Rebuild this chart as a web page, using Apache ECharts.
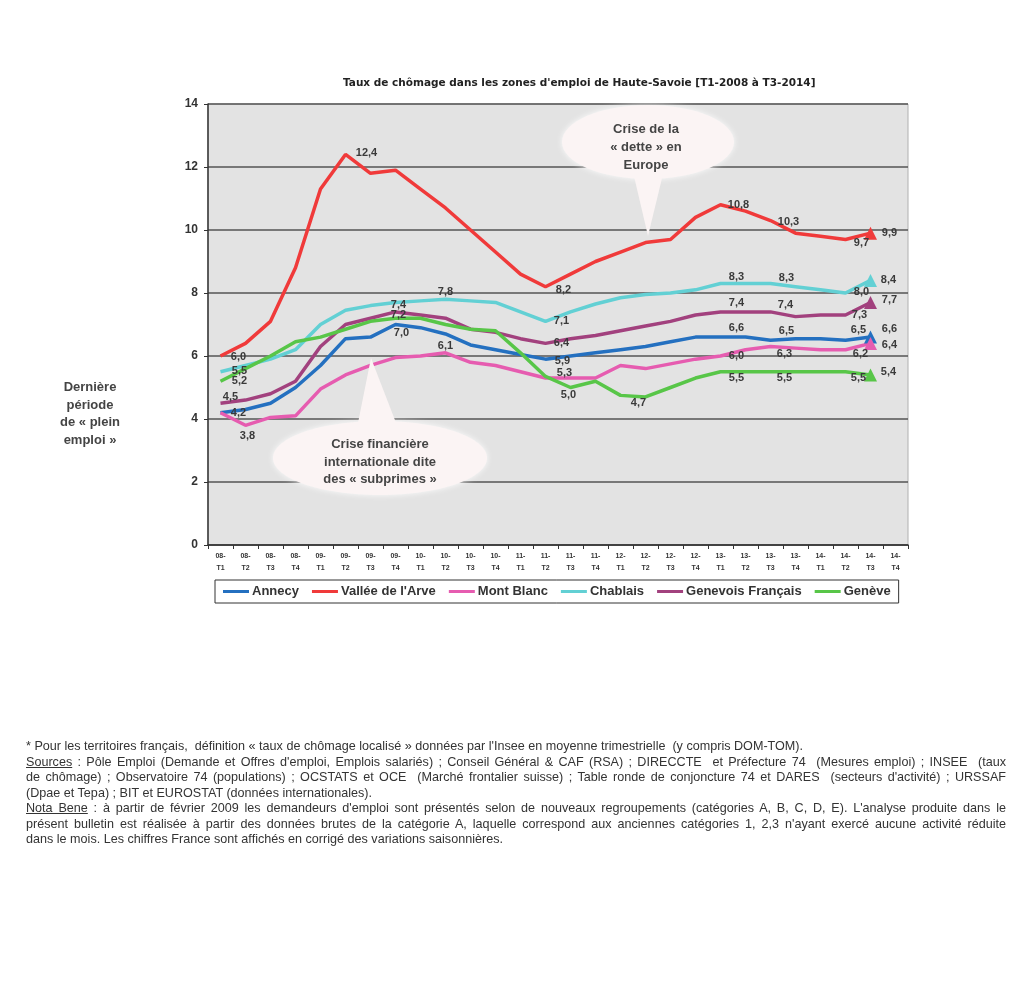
<!DOCTYPE html>
<html><head><meta charset="utf-8">
<script src="https://cdn.jsdelivr.net/npm/echarts@6/dist/echarts.min.js"></script>
<style>
html,body{margin:0;padding:0;background:#fff;}
#chart{position:absolute;left:0;top:0;width:1024px;height:991px;}
#notes{position:absolute;left:26px;top:739px;width:980px;font-family:"Liberation Sans",Arial,sans-serif;font-size:12.6px;line-height:15.5px;color:#333;}
#notes div{white-space:nowrap;}
#notes div.j{white-space:normal;text-align:justify;text-align-last:justify;}
</style></head><body>
<div id="chart"></div>
<div id="notes">
<div>* Pour les territoires français,&nbsp; définition « taux de chômage localisé » données par l'Insee en moyenne trimestrielle&nbsp; (y compris DOM-TOM).</div>
<div class="j"><u>Sources</u> : Pôle Emploi (Demande et Offres d'emploi, Emplois salariés) ; Conseil Général &amp; CAF (RSA) ; DIRECCTE&nbsp; et Préfecture 74&nbsp; (Mesures emploi) ; INSEE&nbsp; (taux</div>
<div class="j">de chômage) ; Observatoire 74 (populations) ; OCSTATS et OCE&nbsp; (Marché frontalier suisse) ; Table ronde de conjoncture 74 et DARES&nbsp; (secteurs d'activité) ; URSSAF</div>
<div>(Dpae et Tepa) ; BIT et EUROSTAT (données internationales).</div>
<div class="j"><u>Nota Bene</u> : à partir de février 2009 les demandeurs d'emploi sont présentés selon de nouveaux regroupements (catégories A, B, C, D, E). L'analyse produite dans le</div>
<div class="j">présent bulletin est réalisée à partir des données brutes de la catégorie A, laquelle correspond aux anciennes catégories 1, 2,3 n'ayant exercé aucune activité réduite</div>
<div>dans le mois. Les chiffres France sont affichés en corrigé des variations saisonnières.</div>
</div>
<script>
// ---------- DATA ----------
const categories = [
  '08-\nT1','08-\nT2','08-\nT3','08-\nT4','09-\nT1','09-\nT2','09-\nT3','09-\nT4',
  '10-\nT1','10-\nT2','10-\nT3','10-\nT4','11-\nT1','11-\nT2','11-\nT3','11-\nT4',
  '12-\nT1','12-\nT2','12-\nT3','12-\nT4','13-\nT1','13-\nT2','13-\nT3','13-\nT4',
  '14-\nT1','14-\nT2','14-\nT3','14-\nT4'
];
const seriesNames = ['Annecy', "Vallée de l'Arve", 'Mont Blanc', 'Chablais', 'Genevois Français', 'Genève'];
const annecy   = [4.2,4.3,4.5,5.0,5.7,6.55,6.6,7.0,6.9,6.7,6.35,6.2,6.05,5.9,6.0,6.1,6.2,6.3,6.45,6.6,6.6,6.6,6.5,6.55,6.55,6.5,6.6];
const valleeArve = [6.0,6.4,7.1,8.8,11.3,12.4,11.8,11.9,11.3,10.7,10.0,9.3,8.6,8.2,8.6,9.0,9.3,9.6,9.7,10.4,10.8,10.6,10.3,9.9,9.8,9.7,9.9];
const montBlanc = [4.2,3.8,4.05,4.1,4.95,5.4,5.7,5.95,6.0,6.1,5.8,5.7,5.5,5.3,5.3,5.3,5.7,5.6,5.75,5.9,6.0,6.2,6.3,6.25,6.2,6.2,6.4];
const chablais  = [5.5,5.7,5.9,6.2,7.0,7.45,7.6,7.7,7.75,7.8,7.75,7.7,7.4,7.1,7.4,7.65,7.85,7.95,8.0,8.1,8.3,8.3,8.3,8.2,8.1,8.0,8.4];
const genevois  = [4.5,4.6,4.8,5.2,6.3,7.0,7.2,7.4,7.3,7.2,6.85,6.75,6.55,6.4,6.55,6.65,6.8,6.95,7.1,7.3,7.4,7.4,7.4,7.25,7.3,7.3,7.7];
const geneve    = [5.2,5.6,6.0,6.45,6.6,6.85,7.1,7.2,7.2,7.0,6.85,6.8,6.1,5.35,5.0,5.2,4.75,4.7,5.0,5.3,5.5,5.5,5.5,5.5,5.5,5.5,5.4];
const yTicks = [0,2,4,6,8,10,12,14];
// indices of points that carry a value label
const labelIdx = {
  'Annecy': [0,7,13,20,22,25,26],
  "Vallée de l'Arve": [0,5,13,20,22,25,26],
  'Mont Blanc': [1,9,13,20,22,25,26],
  'Chablais': [0,9,13,20,22,25,26],
  'Genevois Français': [0,7,13,20,22,25,26],
  'Genève': [0,7,14,17,20,22,25,26]
};

// ---------- STYLE / LAYOUT ----------
const colors = ['#2470c0','#f03a3a','#e65cb0','#62d0d4','#a2417e','#58c648'];
const labelOffsets = {
  'Annecy': [[18,0],[6,8],[17,2],[16,-9],[16,-9],[13,-10],[19,-8]],
  "Vallée de l'Arve": [[18,1],[21,-1],[18,3],[18,0],[18,1],[16,4],[19,0]],
  'Mont Blanc': [[2,11],[0,-7],[19,-5],[16,0],[14,7],[15,4],[19,2]],
  'Chablais': [[19,-1],[0,-7],[16,0],[16,-7],[16,-6],[16,-1],[18,0]],
  'Genevois Français': [[10,-6],[3,-7],[16,0],[16,-9],[15,-7],[14,0],[19,-2]],
  'Genève': [[19,0],[3,-3],[-2,7],[-7,6],[16,6],[14,6],[13,6],[18,-3]]
};
const FONT = '"Liberation Sans", Arial, sans-serif';
const fmt = v => v.toFixed(1).replace('.', ',');
const allValues = [annecy, valleeArve, montBlanc, chablais, genevois, geneve];

const series = seriesNames.map((name, s) => {
  const vals = allValues[s];
  const idx = labelIdx[name];
  const data = vals.map((v, i) => {
    const item = { value: v };
    const k = idx.indexOf(i);
    if (k >= 0) {
      item.label = { show: true, position: 'inside', offset: labelOffsets[name][k], formatter: fmt(v) };
    }
    if (i === vals.length - 1) {
      item.symbol = 'triangle';
      item.symbolSize = 13;
    }
    return item;
  });
  return {
    name, type: 'line', data,
    symbol: 'circle', symbolSize: 0, showSymbol: true,
    color: colors[s],
    lineStyle: { width: 3.5, color: colors[s] },
    itemStyle: { color: colors[s] },
    label: { show: false, fontFamily: FONT, fontSize: 11, fontWeight: 'bold', color: '#3a3a3a', align: 'center', verticalAlign: 'middle' },
    emphasis: { disabled: true },
    z: 3
  };
});

const bubble = '#fbf4f4';
const chart = echarts.init(document.getElementById('chart'), null, { renderer: 'canvas' });
chart.setOption({
  animation: false,
  backgroundColor: '#ffffff',
  title: {
    text: "Taux de chômage dans les zones d'emploi de Haute-Savoie [T1-2008 à T3-2014]",
    left: 338, top: 73,
    textStyle: { fontFamily: '"DejaVu Sans", sans-serif', fontSize: 10.5, fontWeight: 'bold', color: '#222' }
  },
  legend: {
    left: 215, top: 580,
    orient: 'horizontal',
    borderColor: '#333', borderWidth: 1,
    padding: [5, 8],
    itemWidth: 26, itemHeight: 3, itemGap: 13,
    icon: 'rect',
    data: seriesNames,
    textStyle: { fontFamily: FONT, fontSize: 13, fontWeight: 'bold', color: '#333', padding: [0,0,0,-2] }
  },
  grid: {
    left: 208, top: 104, width: 700, height: 441,
    show: true, backgroundColor: '#e3e3e3', borderColor: '#b0b0b0', borderWidth: 1
  },
  xAxis: {
    type: 'category', data: categories, boundaryGap: true,
    axisLine: { lineStyle: { color: '#333', width: 1.5 } },
    axisTick: { show: true, length: 4, lineStyle: { color: '#333' } },
    axisLabel: { interval: 0, fontFamily: FONT, fontSize: 7, fontWeight: 'bold', color: '#333', lineHeight: 12, margin: 5 }
  },
  yAxis: {
    type: 'value', min: yTicks[0], max: yTicks[yTicks.length - 1], interval: 2,
    axisLine: { show: true, lineStyle: { color: '#333', width: 1.5 } },
    axisTick: { show: true, length: 4, lineStyle: { color: '#333' } },
    splitLine: { lineStyle: { color: '#555', width: 1.5 } },
    axisLabel: { fontFamily: FONT, fontSize: 12, fontWeight: 'bold', color: '#333', margin: 10 }
  },
  series,
  graphic: [
    { type: 'ellipse', z: 100, shape: { cx: 648, cy: 142, rx: 86, ry: 37 }, style: { fill: bubble, shadowBlur: 6, shadowColor: 'rgba(255,255,255,0.9)' } },
    { type: 'polygon', z: 100, shape: { points: [[633, 172], [664, 170], [648, 236]] }, style: { fill: bubble } },
    { type: 'text', z: 101, style: { text: 'Crise de la\n« dette » en\nEurope', x: 646, y: 147, align: 'center', verticalAlign: 'middle', fontFamily: FONT, fontSize: 13, fontWeight: 'bold', fill: '#444', lineHeight: 18 } },
    { type: 'ellipse', z: 100, shape: { cx: 380, cy: 458, rx: 107, ry: 37 }, style: { fill: bubble, shadowBlur: 6, shadowColor: 'rgba(255,255,255,0.9)' } },
    { type: 'polygon', z: 100, shape: { points: [[357, 428], [398, 428], [371, 358]] }, style: { fill: bubble } },
    { type: 'text', z: 101, style: { text: 'Crise financière\ninternationale dite\ndes « subprimes »', x: 380, y: 462, align: 'center', verticalAlign: 'middle', fontFamily: FONT, fontSize: 13, fontWeight: 'bold', fill: '#444', lineHeight: 17.5 } },
    { type: 'text', z: 101, style: { text: 'Dernière\npériode\nde « plein\nemploi »', x: 90, y: 414, align: 'center', verticalAlign: 'middle', fontFamily: FONT, fontSize: 13, fontWeight: 'bold', fill: '#444', lineHeight: 17.5 } }
  ]
});
</script>
</body></html>
